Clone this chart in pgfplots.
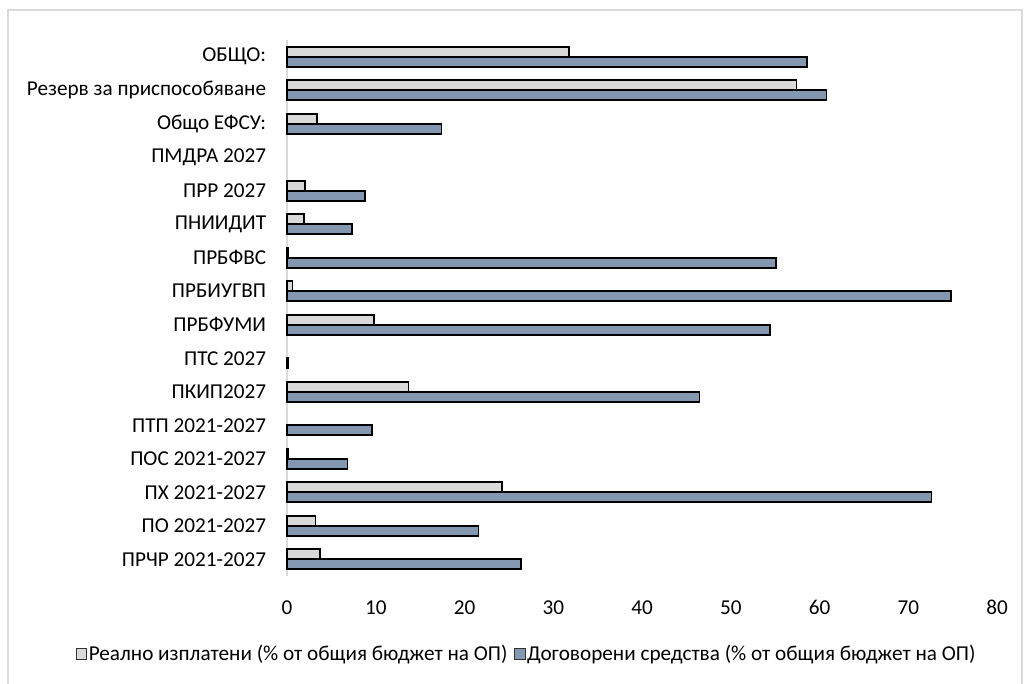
\documentclass[border=0pt]{standalone}
\usepackage{pgfplots}
\pgfplotsset{compat=1.18}
\usepackage{fontspec}
\setmainfont{Carlito}
\definecolor{barblue}{HTML}{8497B0}
\definecolor{bargray}{HTML}{D9D9D9}
\definecolor{framegray}{HTML}{D9D9D9}
\begin{document}
\begin{tikzpicture}
\useasboundingbox (0,0) rectangle (774pt,512.25pt);
\fill[white] (0,0) rectangle (774pt,512.25pt);
\draw[framegray, line width=1pt] (6pt,-5pt) -- (6pt,504.75pt) -- (766.5pt,504.75pt) -- (766.5pt,-5pt);
\begin{axis}[
  at={(215.25pt,80.25pt)}, anchor=south west,
  width=532.5pt, height=402pt, scale only axis,
  xbar, bar width=7.5pt,
  xmin=0, xmax=80, ymin=-0.5, ymax=15.5,
  xtick={0,10,...,80},
  ytick={0,...,15},
  yticklabels={ПРЧР 2021-2027, ПО 2021-2027, ПХ 2021-2027, ПОС 2021-2027, ПТП 2021-2027, ПКИП2027, ПТС 2027, ПРБФУМИ, ПРБИУГВП, ПРБФВС, ПНИИДИТ, ПРР 2027, ПМДРА 2027, Общо ЕФСУ:, Резерв за приспособяване, ОБЩО:},
  major tick length=0pt,
  axis x line*=bottom, axis y line*=left,
  x axis line style={draw=none},
  y axis line style={draw=framegray, line width=1.5pt, -},
  tick label style={font=\fontsize{15.9}{19}\selectfont},
  /pgf/number format/assume math mode=true,
  yticklabel style={anchor=east, inner sep=0pt, xshift=-15.5pt},
  xticklabel style={anchor=north, inner sep=0pt, yshift=-18pt},
  legend style={at={(0.338,-0.1455)}, anchor=center, draw=none, fill=none,
    font=\fontsize{15.9}{19}\selectfont, legend columns=2,
    /tikz/every even column/.append style={column sep=3pt},
    /tikz/every odd column/.append style={column sep=-1pt}},
  legend cell align=left,
  legend image code/.code={\draw[#1, line width=0.7pt, draw=black!80] (0pt,-4pt) rectangle (8pt,4pt);},
  clip=false,
]
\addplot[fill=bargray, draw=black, line width=1.2pt, bar shift=3.75pt] coordinates {
(3.7,0) (3.2,1) (24.2,2) (0.1,3) (13.7,5) (9.8,7) (0.6,8) (0.1,9) (1.9,10) (2.0,11) (3.4,13) (57.4,14) (31.8,15)};
\addplot[fill=barblue, draw=black, line width=1.2pt, bar shift=-3.75pt] coordinates {
(26.4,0) (21.6,1) (72.6,2) (6.8,3) (9.6,4) (46.5,5) (0.1,6) (54.4,7) (74.8,8) (55.1,9) (7.3,10) (8.8,11) (17.4,13) (60.8,14) (58.6,15)};
\legend{Реално изплатени (\% от общия бюджет на ОП), Договорени средства (\% от общия бюджет на ОП)}
\end{axis}
\end{tikzpicture}
\end{document}
